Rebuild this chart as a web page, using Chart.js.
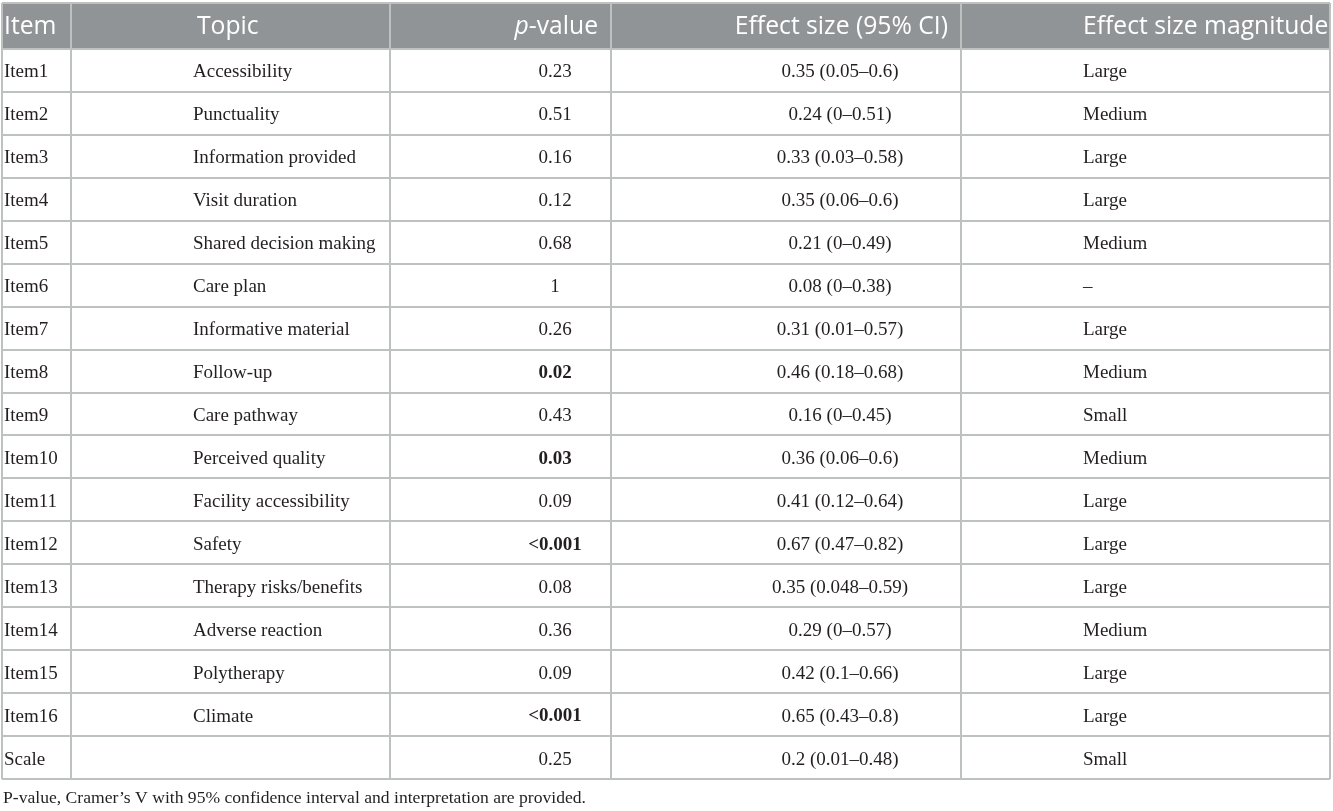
<!DOCTYPE html>
<html lang="en">
<head>
<meta charset="utf-8">
<title>Cramer's V by item</title>
<script src="https://cdn.jsdelivr.net/npm/chart.js@4.4.1/dist/chart.umd.min.js"></script>
<style>
  html, body { margin: 0; padding: 0; background: #fff; }
  #wrap { width: 1333px; height: 811px; }
</style>
</head>
<body>
<div id="wrap"><canvas id="table"></canvas></div>
<script>
// table content
const items = ['Item1', 'Item2', 'Item3', 'Item4', 'Item5', 'Item6', 'Item7', 'Item8', 'Item9',
  'Item10', 'Item11', 'Item12', 'Item13', 'Item14', 'Item15', 'Item16', 'Scale'];
const topics = ['Accessibility', 'Punctuality', 'Information provided', 'Visit duration',
  'Shared decision making', 'Care plan', 'Informative material', 'Follow-up', 'Care pathway',
  'Perceived quality', 'Facility accessibility', 'Safety', 'Therapy risks/benefits',
  'Adverse reaction', 'Polytherapy', 'Climate', ''];
const pValues = ['0.23', '0.51', '0.16', '0.12', '0.68', '1', '0.26', '0.02', '0.43',
  '0.03', '0.09', '<0.001', '0.08', '0.36', '0.09', '<0.001', '0.25'];
const effect = [0.35, 0.24, 0.33, 0.35, 0.21, 0.08, 0.31, 0.46, 0.16, 0.36, 0.41, 0.67, 0.35, 0.29, 0.42, 0.65, 0.2];
const ciLow  = [0.05, 0, 0.03, 0.06, 0, 0, 0.01, 0.18, 0, 0.06, 0.12, 0.47, 0.048, 0, 0.1, 0.43, 0.01];
const ciHigh = [0.6, 0.51, 0.58, 0.6, 0.49, 0.38, 0.57, 0.68, 0.45, 0.6, 0.64, 0.82, 0.59, 0.57, 0.66, 0.8, 0.48];
const magnitude = ['Large', 'Medium', 'Large', 'Large', 'Medium', '\u2013', 'Large', 'Medium', 'Small',
  'Medium', 'Large', 'Large', 'Large', 'Medium', 'Large', 'Large', 'Small'];
const headers = ['Item', 'Topic', 'p-value', 'Effect size (95% CI)', 'Effect size magnitude'];
const footnote = 'P-value, Cramer\u2019s V with 95% confidence interval and interpretation are provided.';

// layout (x units along the table width)
const colEdges = [0, 69, 388, 609, 959, 1328];
const headAlign = [['left', 2], ['left', 195], ['right', 596], ['right', 946], ['left', 1081]];
const bodyAlign = [['left', 2], ['left', 191], ['center', 553], ['center', 838], ['left', 1081]];
const headerHeight = 46;

const serif = '"Liberation Serif", "Times New Roman", serif';
const sans = '"Open Sans", "Noto Sans", sans-serif';
const headFont = '24.7px ';
const bodyFont = '19px ';

function ciText(i) {
  return effect[i] + ' (' + ciLow[i] + '\u2013' + ciHigh[i] + ')';
}
function isSignificant(p) {
  return p.charAt(0) === '<' || parseFloat(p) < 0.05;
}

const cellPlugin = {
  id: 'cells',
  afterDraw(chart) {
    const ctx = chart.ctx;
    const area = chart.chartArea;
    const x = chart.scales.x, y = chart.scales.y;
    const half = (y.getPixelForValue(1) - y.getPixelForValue(0)) / 2;
    const left = x.getPixelForValue(colEdges[0]);
    const right = x.getPixelForValue(colEdges[colEdges.length - 1]);
    const headTop = area.top - headerHeight;

    ctx.save();
    // header band
    ctx.fillStyle = '#909497';
    ctx.fillRect(left, headTop, right - left, headerHeight);

    // rules
    ctx.lineWidth = 2;
    ctx.strokeStyle = '#bdc2c0';
    ctx.beginPath();
    ctx.moveTo(left, headTop);
    ctx.lineTo(right, headTop);
    for (let i = 0; i <= items.length; i++) {
      const yy = Math.round(y.getPixelForValue(i) - half);
      ctx.moveTo(left, yy);
      ctx.lineTo(right, yy);
    }
    colEdges.forEach(function (c) {
      const xx = x.getPixelForValue(c);
      ctx.moveTo(xx, headTop);
      ctx.lineTo(xx, area.bottom);
    });
    ctx.stroke();

    // header text
    ctx.fillStyle = '#ffffff';
    ctx.textBaseline = 'middle';
    const hy = headTop + headerHeight / 2 + 1;
    headers.forEach(function (h, c) {
      const ax = x.getPixelForValue(headAlign[c][1]);
      if (h === 'p-value') {
        ctx.font = 'italic ' + headFont + sans;
        const wp = ctx.measureText('p').width;
        ctx.font = headFont + sans;
        const wr = ctx.measureText('-value').width;
        const sx = headAlign[c][0] === 'right' ? ax - wp - wr : ax;
        ctx.textAlign = 'left';
        ctx.font = 'italic ' + headFont + sans;
        ctx.fillText('p', sx, hy);
        ctx.font = headFont + sans;
        ctx.fillText('-value', sx + wp, hy);
      } else {
        ctx.font = headFont + sans;
        ctx.textAlign = headAlign[c][0];
        ctx.fillText(h, ax, hy);
      }
    });

    // body cells
    ctx.fillStyle = '#231f20';
    items.forEach(function (it, i) {
      const cy = y.getPixelForValue(i) + 2;
      const row = [it, topics[i], pValues[i], ciText(i), magnitude[i]];
      row.forEach(function (txt, c) {
        const bold = c === 2 && isSignificant(pValues[i]);
        ctx.font = (bold ? 'bold ' : '') + bodyFont + serif;
        ctx.textAlign = bodyAlign[c][0];
        ctx.fillText(txt, x.getPixelForValue(bodyAlign[c][1]), cy);
      });
    });

    // footnote
    ctx.font = '17.6px ' + serif;
    ctx.textAlign = 'left';
    ctx.fillText(footnote, left + 1, area.bottom + 19);
    ctx.restore();
  }
};

new Chart(document.getElementById('table'), {
  type: 'bar',
  data: { labels: items, datasets: [] },
  options: {
    indexAxis: 'y',
    responsive: true,
    maintainAspectRatio: false,
    animation: false,
    layout: { padding: { left: 2, right: 3, top: 49, bottom: 32 } },
    plugins: { legend: { display: false }, tooltip: { enabled: false } },
    scales: {
      x: { type: 'linear', min: colEdges[0], max: colEdges[colEdges.length - 1], display: false },
      y: { type: 'category', offset: true, display: false }
    }
  },
  plugins: [cellPlugin]
});
</script>
</body>
</html>
